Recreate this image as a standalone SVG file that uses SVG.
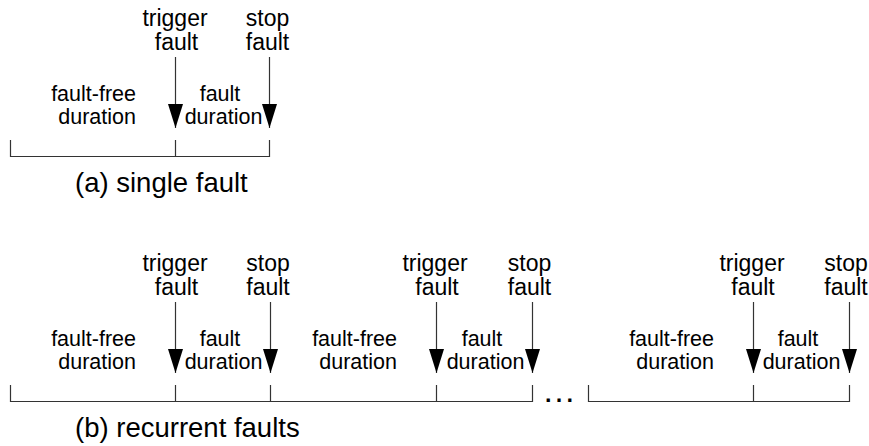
<svg xmlns="http://www.w3.org/2000/svg" width="869" height="446" viewBox="0 0 869 446">
<defs>
<style>
text{font-family:"Liberation Sans",Arial,sans-serif;fill:#000}
.ev{font-size:23px;text-anchor:middle}
.dur{font-size:21.5px}
.mid{text-anchor:middle}
.end{text-anchor:end}
.cap{font-size:27.5px}
.ln{stroke:#333;stroke-width:1.2;fill:none}
</style>
<marker id="ah" viewBox="0 0 24 15" markerWidth="24" markerHeight="15" refX="24" refY="7.5" orient="auto" markerUnits="userSpaceOnUse"><path d="M0,0 L24,7.5 L0,15 Z" fill="#000"/></marker>
</defs>
<rect width="869" height="446" fill="#fff"/>

<!-- (a) single fault -->
<g id="timeline-a">
<path class="ln" d="M10.5,140 V156.5 H269.5 V140 M175.5,140 V156.5"/>
</g>
<g id="a-fault-free">
<text class="dur end" x="136" y="101">fault-free</text>
<text class="dur end" x="136" y="124">duration</text>
</g>
<g id="a-fault-duration">
<text class="dur mid" x="220" y="101">fault</text>
<text class="dur mid" x="223.5" y="124">duration</text>
</g>
<g id="a-trigger">
<text class="ev" x="175" y="26">trigger</text>
<text class="ev" x="176.5" y="50">fault</text>
</g>
<g id="a-stop">
<text class="ev" x="267.5" y="26">stop</text>
<text class="ev" x="267.5" y="50">fault</text>
</g>
<text id="caption-a" class="cap" x="75" y="192">(a) single fault</text>

<!-- (b) recurrent faults -->
<g id="timeline-b">
<path class="ln" d="M10.5,385 V401.5 H532.5 V385 M175.5,385 V401.5 M270.5,385 V401.5 M436.5,385 V401.5"/>
<path class="ln" d="M588.5,385 V401.5 H849.5 V385 M753.5,385 V401.5"/>
<text id="ellipsis" style="font-size:34px;text-anchor:middle" x="559" y="402">…</text>
</g>
<g id="b-fault-free-1">
<text class="dur end" x="136" y="346">fault-free</text>
<text class="dur end" x="136" y="369">duration</text>
</g>
<g id="b-fault-duration-1">
<text class="dur mid" x="220" y="346">fault</text>
<text class="dur mid" x="223.5" y="369">duration</text>
</g>
<g id="b-fault-free-2">
<text class="dur end" x="397" y="346">fault-free</text>
<text class="dur end" x="397" y="369">duration</text>
</g>
<g id="b-fault-duration-2">
<text class="dur mid" x="482" y="346">fault</text>
<text class="dur mid" x="485.5" y="369">duration</text>
</g>
<g id="b-fault-free-3">
<text class="dur end" x="714" y="346">fault-free</text>
<text class="dur end" x="714" y="369">duration</text>
</g>
<g id="b-fault-duration-3">
<text class="dur mid" x="798" y="346">fault</text>
<text class="dur mid" x="801.5" y="369">duration</text>
</g>
<g id="b-trigger-1">
<text class="ev" x="175" y="271">trigger</text>
<text class="ev" x="176.5" y="295">fault</text>
</g>
<g id="b-stop-1">
<text class="ev" x="268" y="271">stop</text>
<text class="ev" x="268" y="295">fault</text>
</g>
<g id="b-trigger-2">
<text class="ev" x="435" y="271">trigger</text>
<text class="ev" x="437" y="295">fault</text>
</g>
<g id="b-stop-2">
<text class="ev" x="529.5" y="271">stop</text>
<text class="ev" x="529.5" y="295">fault</text>
</g>
<g id="b-trigger-3">
<text class="ev" x="752" y="271">trigger</text>
<text class="ev" x="753" y="295">fault</text>
</g>
<g id="b-stop-3">
<text class="ev" x="846" y="271">stop</text>
<text class="ev" x="846" y="295">fault</text>
</g>
<text id="caption-b" class="cap" x="75" y="437">(b) recurrent faults</text>

<g id="connectors">
<path class="ln" marker-end="url(#ah)" d="M175.5,57 V128"/>
<path class="ln" marker-end="url(#ah)" d="M269.5,57 V128"/>
<path class="ln" marker-end="url(#ah)" d="M175.5,302 V373"/>
<path class="ln" marker-end="url(#ah)" d="M270.5,302 V373"/>
<path class="ln" marker-end="url(#ah)" d="M436.5,302 V373"/>
<path class="ln" marker-end="url(#ah)" d="M532.5,302 V373"/>
<path class="ln" marker-end="url(#ah)" d="M753.5,302 V373"/>
<path class="ln" marker-end="url(#ah)" d="M849.5,302 V373"/>
</g>
</svg>
